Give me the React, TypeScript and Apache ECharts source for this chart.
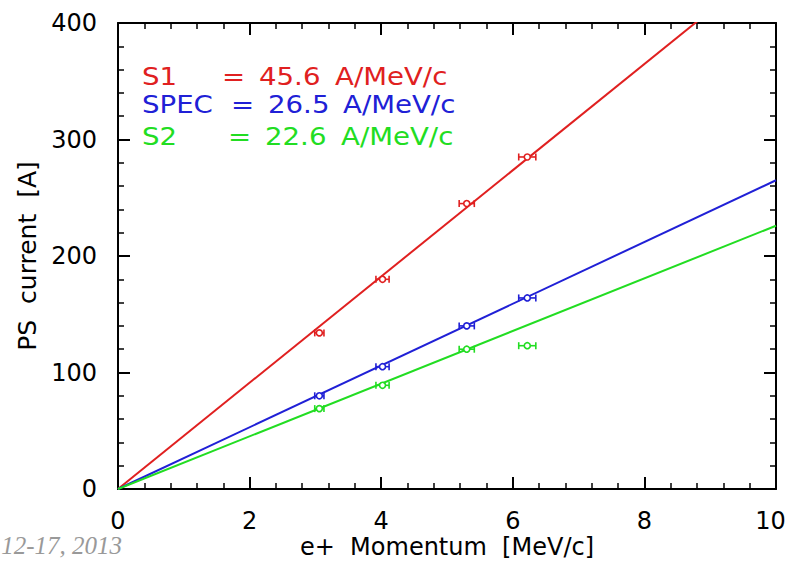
import React, { useEffect, useRef } from "react";
import * as echarts from "echarts";

const momentum = [3.06, 4.02, 5.3, 6.22];
const momentumErr = [0.07, 0.1, 0.115, 0.13];
const currentS1 = [134, 180, 245, 285];
const currentSPEC = [80, 105, 140, 164];
const currentS2 = [69, 89, 120, 123];
const seriesNames = ["S1", "SPEC", "S2"];
const slopes = [45.6, 26.5, 22.6];
const colors = ["#e02020", "#2020d6", "#22dd22"];
const xTicks = { min: 0, max: 10, interval: 2 };
const yTicks = { min: 0, max: 400, interval: 100 };

const FONT = "DejaVu Sans";

export default function App() {
  const ref = useRef<HTMLDivElement>(null);
  useEffect(() => {
    if (!ref.current) return;
    const chart = echarts.init(ref.current, null, { renderer: "svg" });
    const values = [currentS1, currentSPEC, currentS2];

    const axisCommon = {
      axisLine: { show: true, onZero: false, lineStyle: { color: "#000", width: 2 } },
      axisTick: { show: true, inside: true, length: 12, lineStyle: { color: "#000", width: 2 } },
      minorTick: { show: true, splitNumber: 5, length: 6, lineStyle: { color: "#000", width: 1.5 } },
      splitLine: { show: false },
      minorSplitLine: { show: false },
    };

    const errSeries = values.map((vals, si) => ({
      type: "custom",
      name: seriesNames[si] + " data",
      z: 5,
      data: momentum.map((x, i) => [x, vals[i], momentumErr[i]]),
      renderItem: (params: any, api: any) => {
        const x = api.value(0);
        const y = api.value(1);
        const e = api.value(2);
        const c = api.coord([x, y]);
        const l = api.coord([x - e, y]);
        const r = api.coord([x + e, y]);
        const st = { stroke: colors[si], lineWidth: 1.6, fill: "none" };
        return {
          type: "group",
          children: [
            { type: "line", shape: { x1: l[0], y1: l[1], x2: r[0], y2: r[1] }, style: st },
            { type: "line", shape: { x1: l[0], y1: l[1] - 3.5, x2: l[0], y2: l[1] + 3.5 }, style: st },
            { type: "line", shape: { x1: r[0], y1: r[1] - 3.5, x2: r[0], y2: r[1] + 3.5 }, style: st },
            { type: "circle", shape: { cx: c[0], cy: c[1], r: 3 }, style: { stroke: colors[si], lineWidth: 1.6, fill: "#fff" } },
          ],
        };
      },
    }));

    const fitSeries = slopes.map((k, si) => ({
      type: "line",
      name: seriesNames[si] + " fit",
      data: [
        [0, 0],
        [10, k * 10],
      ],
      clip: true,
      symbol: "none",
      lineStyle: { color: colors[si], width: 2 },
      z: 3,
    }));

    const legendY = [77, 105, 137];
    const nameX = [142, 142, 142];
    const eqX = [222, 231, 228];
    const valX = [259, 268, 265];
    const unitX = [335, 343, 341];
    const legendTexts: any[] = [];
    const mk = (x: number, y: number, text: string, fill: string) => ({
      type: "text",
      x,
      y,
      scaleX: 1.15,
      style: { text, fill, font: `24px '${FONT}'`, verticalAlign: "middle", align: "left" },
    });
    seriesNames.forEach((n, i) => {
      legendTexts.push(mk(nameX[i], legendY[i], n, colors[i]));
      legendTexts.push(mk(eqX[i], legendY[i], "=", colors[i]));
      legendTexts.push(mk(valX[i], legendY[i], slopes[i].toFixed(1), colors[i]));
      legendTexts.push(mk(unitX[i], legendY[i], "A/MeV/c", colors[i]));
    });

    chart.setOption({
      animation: false,
      backgroundColor: "#fff",
      grid: { left: 118, right: 12, top: 23, bottom: 73, containLabel: false, outerBoundsMode: "none" },
      xAxis: [
        {
          type: "value",
          position: "bottom",
          ...xTicks,
          ...axisCommon,
          axisLabel: {
            show: true,
            color: "#000",
            fontSize: 24,
            fontFamily: FONT,
            margin: 20,
            formatter: (v: number) => (v === xTicks.max ? `{m|${v}}` : `${v}`),
            rich: { m: { fontSize: 24, fontFamily: FONT, color: "#000", padding: [0, 11, 0, 0] } },
          },
          name: "e+  Momentum  [MeV/c]",
          nameLocation: "middle",
          nameGap: 46,
          nameMoveOverlap: false,
          nameTextStyle: { color: "#000", fontSize: 24, fontFamily: FONT, lineHeight: 24 },
        },
        {
          type: "value",
          position: "top",
          ...xTicks,
          ...axisCommon,
          axisLabel: { show: false },
        },
      ],
      yAxis: [
        {
          type: "value",
          position: "left",
          ...yTicks,
          ...axisCommon,
          axisLabel: { show: true, color: "#000", fontSize: 24, fontFamily: FONT, margin: 21 },
          name: "PS  current  [A]",
          nameLocation: "middle",
          nameGap: 78,
          nameMoveOverlap: false,
          nameTextStyle: { color: "#000", fontSize: 25, fontFamily: FONT },
        },
        {
          type: "value",
          position: "right",
          ...yTicks,
          ...axisCommon,
          axisLabel: { show: false },
        },
      ],
      series: [...fitSeries, ...errSeries],
      graphic: [
        ...legendTexts,
        {
          type: "text",
          x: 122,
          y: 545,
          style: {
            text: "12-17, 2013",
            fill: "#999999",
            font: "italic 25px 'Liberation Serif'",
            align: "right",
            verticalAlign: "middle",
          },
        },
      ],
    });
    return () => chart.dispose();
  }, []);
  return (
    <div
      ref={ref}
      style={{ position: "fixed", left: 0, top: 0, width: 788, height: 562 }}
    />
  );
}
